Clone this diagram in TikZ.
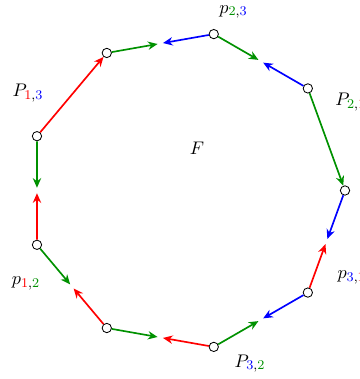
\documentclass[tikz,border=0pt]{standalone}
\usetikzlibrary{arrows.meta,calc}
\definecolor{grn}{RGB}{0,145,0}
\tikzset{
  vtx/.style={circle, draw, fill=white, inner sep=0pt, minimum size=5.6pt, line width=0.5pt},
  edg/.style={->, line width=1pt},
  lbl/.style={inner sep=0pt, font=\fontsize{11}{13}\selectfont}
}
\begin{document}
\begin{tikzpicture}[>={Stealth[length=5.8pt,width=5pt]}, x=0.6pt, y=0.6pt]
	\useasboundingbox (-186.2,-188.5) rectangle (172.8,190.5);
	
	% corners of the face
	\foreach \k in {0,...,8}
		\node[vtx] (v\k) at (40*\k:158.8) {};
	
	% sides split in two halves
	\foreach \a/\b/\ca/\cb in {3/2/grn/blue, 2/1/grn/blue, 0/8/blue/red, 8/7/blue/grn,
	                           7/6/red/grn, 6/5/red/grn, 5/4/red/grn} {
		\coordinate (h\a\b) at ($(v\a)!0.475!(v\b)$);
		\coordinate (h\b\a) at ($(v\b)!0.475!(v\a)$);
		\draw[edg, \ca] (v\a) -- (h\a\b);
		\draw[edg, \cb] (v\b) -- (h\b\a);
	}
	
	% whole sides
	\draw[edg, grn] (v1) -- (v0);
	\draw[edg, red] (v4) -- (v3);
	
	\node[lbl] (f) at (10.8,42) {$F$};
	\node[lbl] (P13) at (-158.2,97.5) {$P_{\textcolor{red}{1},\textcolor{blue}{3}}$};
	\node[lbl] (p23) at (47.3,178.5) {$p_{\textcolor{grn}{2},\textcolor{blue}{3}}$};
	\node[lbl, anchor=west] (P21) at (148.8,88.5) {$P_{\textcolor{grn}{2},\textcolor{red}{1}}$};
	\node[lbl, anchor=west] (p31) at (151,-86.5) {$p_{\textcolor{blue}{3},\textcolor{red}{1}}$};
	\node[lbl] (P32) at (63.8,-173) {$P_{\textcolor{blue}{3},\textcolor{grn}{2}}$};
	\node[lbl] (p12) at (-160.2,-93) {$p_{\textcolor{red}{1},\textcolor{grn}{2}}$};
\end{tikzpicture}
\end{document}
